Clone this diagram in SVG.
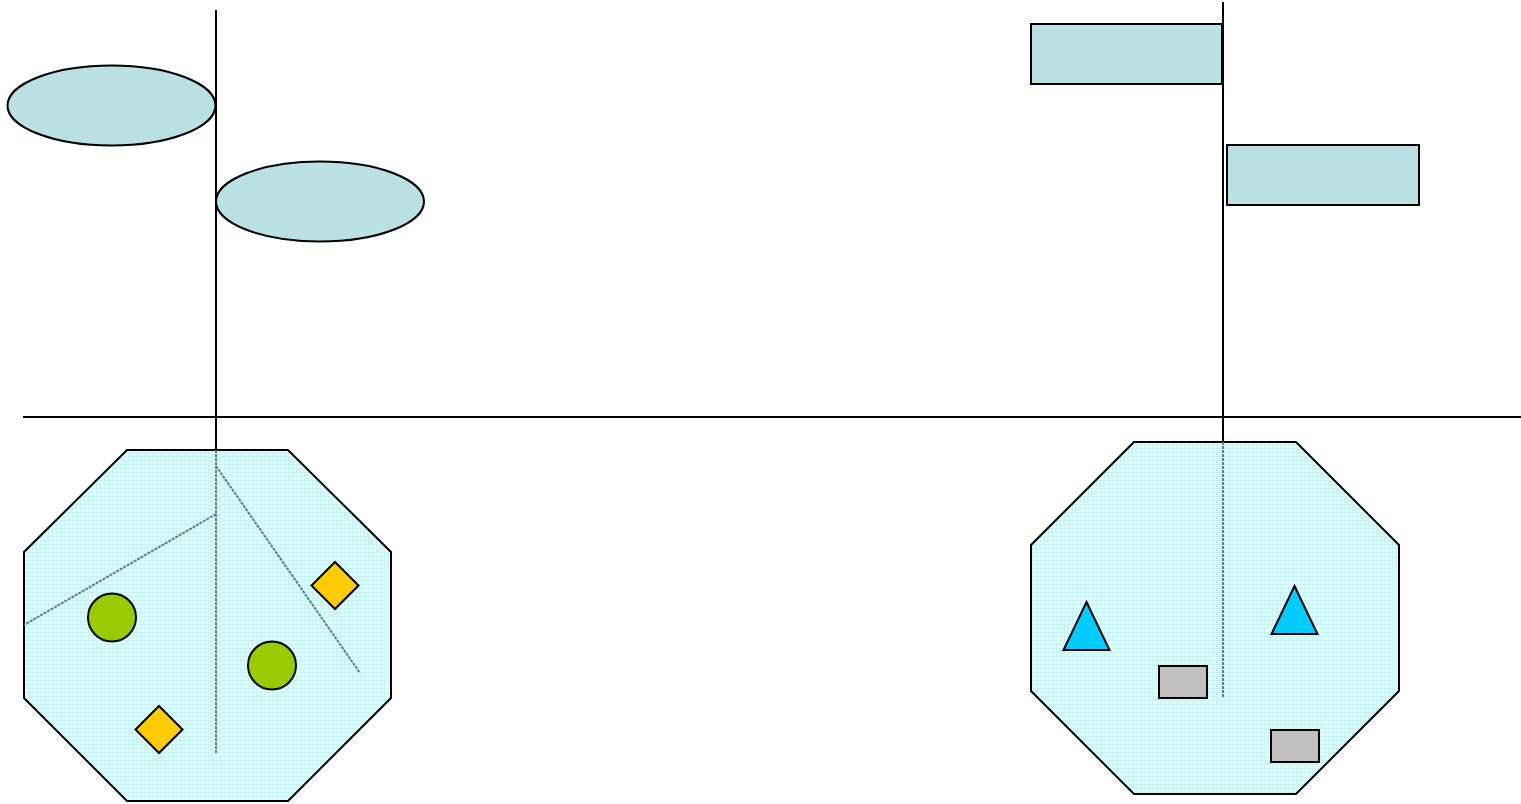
<svg xmlns="http://www.w3.org/2000/svg" width="1521" height="804" viewBox="0 0 1521 804">
<style>
.ln{stroke:#000;stroke-width:2;fill:none}
.dash{stroke:#5a8080;stroke-width:2;stroke-dasharray:3 1;fill:none}
.oct{fill:url(#grid);stroke:#000;stroke-width:2}
.top{fill:#b9e0e3;stroke:#000;stroke-width:2}
.circ{fill:#99cc00;stroke:#000;stroke-width:2}
.dia{fill:#ffcc00;stroke:#000;stroke-width:2}
.tri{fill:#00ccff;stroke:#000;stroke-width:2}
.box{fill:#c0c0c0;stroke:#000;stroke-width:2}
</style>
<defs>
<pattern id="grid" width="4" height="4" patternUnits="userSpaceOnUse">
<rect width="4" height="4" fill="#e2fdfd"/>
<path d="M0 0.5H4M0.5 0V4" stroke="#c8f3f3" stroke-width="1"/>
</pattern>
</defs>
<rect width="1521" height="804" fill="#fff"/>
<g id="octagon-left"><polygon class="oct" points="127,450 288,450 391,552 391,698 288,801 127,801 24,698 24,552"/></g>
<g id="octagon-right"><polygon class="oct" points="1134,442 1296,442 1399,545 1399,691 1296,794 1134,794 1031,691 1031,545"/></g>
<g id="connectors">
<line class="ln" x1="23" y1="417" x2="1521" y2="417"/>
<line class="ln" x1="216" y1="10" x2="216" y2="450"/>
<line class="dash" x1="216" y1="450" x2="216" y2="753"/>
<line class="dash" x1="216" y1="466" x2="360" y2="673"/>
<line class="dash" x1="216" y1="514" x2="24" y2="625"/>
<line class="ln" x1="1223" y1="2" x2="1223" y2="442"/>
<line class="dash" x1="1223" y1="442" x2="1223" y2="698"/>
</g>
<g id="ellipse-1"><ellipse class="top" cx="111.5" cy="105.5" rx="104" ry="40"/></g>
<g id="ellipse-2"><ellipse class="top" cx="320" cy="201.5" rx="104" ry="40"/></g>
<g id="rect-1"><rect class="top" x="1031" y="24" width="191" height="60"/></g>
<g id="rect-2"><rect class="top" x="1227" y="145" width="192" height="60"/></g>
<g id="circle-1"><circle class="circ" cx="112" cy="617.5" r="24"/></g>
<g id="circle-2"><circle class="circ" cx="272" cy="665.5" r="24"/></g>
<g id="diamond-1"><polygon class="dia" points="335,562 358.5,585.5 335,609 311.5,585.5"/></g>
<g id="diamond-2"><polygon class="dia" points="159,706 182.5,729.5 159,753 135.5,729.5"/></g>
<g id="triangle-1"><polygon class="tri" points="1086.5,602 1109.5,650 1063.5,650"/></g>
<g id="triangle-2"><polygon class="tri" points="1294.5,586 1317.5,634 1271.5,634"/></g>
<g id="box-1"><rect class="box" x="1159" y="666" width="48" height="32"/></g>
<g id="box-2"><rect class="box" x="1271" y="730" width="48" height="32"/></g>
</svg>
